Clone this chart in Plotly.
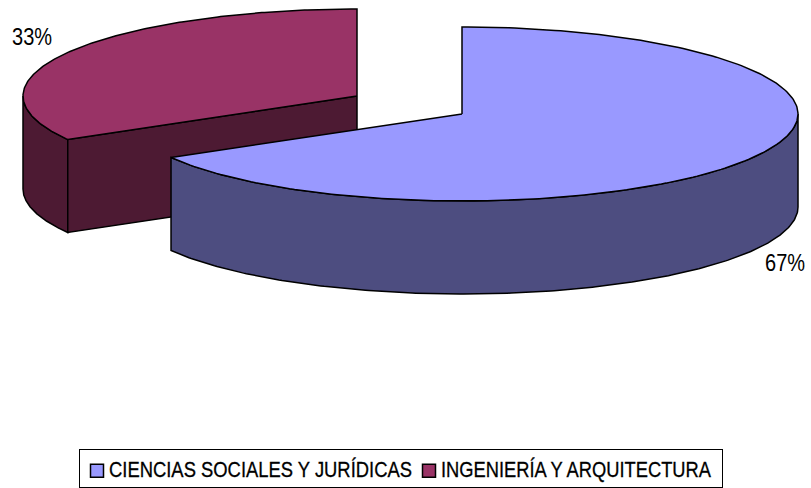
import numpy as np
import plotly.graph_objects as go

categories = ["CIENCIAS SOCIALES Y JURÍDICAS", "INGENIERÍA Y ARQUITECTURA"]
values = [2, 1]

TOP = ["#9999FF", "#993366"]
SIDE = ["#4D4D80", "#4D1A33"]
CENTERS = [(462, 114), (357, 96)]
RADII_X = [336, 334]
RY, DEPTH = 87, 93
FONT = "Liberation Sans, Arial, sans-serif"

shares = np.array(values, dtype=float) / sum(values)
edges = np.concatenate([[0], np.cumsum(shares)]) * 2 * np.pi


def rim(i, a0, a1, dy=0.0):
    t = np.linspace(a0, a1, 240)
    center = CENTERS[i]
    return center[0] + RADII_X[i] * np.sin(t), center[1] - RY * np.cos(t) + dy


def poly(x, y, color, name, group):
    return go.Scatter(x=list(x), y=list(y), mode="lines", fill="toself", fillcolor=color,
                      line=dict(color="black", width=1.5), hoverinfo="text", text=name,
                      legendgroup=group, showlegend=False)


fig = go.Figure()

# Second slice (drawn first: it lies behind the first one)
c = CENTERS[1]
a0, a1 = edges[1], edges[2]
visible_end = 1.5 * np.pi  # the wall is only visible on the front half
wx, wy = rim(1, a0, visible_end)
wxb, wyb = rim(1, a0, visible_end, DEPTH)
fig.add_trace(poly(np.r_[wx, wxb[::-1], wx[0]], np.r_[wy, wyb[::-1], wy[0]], SIDE[1], categories[1], "b"))
px, py = rim(1, a0, a0 + 1e-6)
fig.add_trace(poly([c[0], px[0], px[0], c[0], c[0]],
                   [c[1], py[0], py[0] + DEPTH, c[1] + DEPTH, c[1]], SIDE[1], categories[1], "b"))
tx, ty = rim(1, a0, a1)
fig.add_trace(poly(np.r_[c[0], tx, c[0]], np.r_[c[1], ty, c[1]], TOP[1], categories[1], "b"))

# First slice
c = CENTERS[0]
a0, a1 = edges[0], edges[1]
wx, wy = rim(0, 0.5 * np.pi, a1)
wxb, wyb = rim(0, 0.5 * np.pi, a1, DEPTH)
fig.add_trace(poly(np.r_[wx, wxb[::-1], wx[0]], np.r_[wy, wyb[::-1], wy[0]], SIDE[0], categories[0], "a"))
tx, ty = rim(0, a0, a1)
fig.add_trace(poly(np.r_[c[0], tx, c[0]], np.r_[c[1], ty, c[1]], TOP[0], categories[0], "a"))

# Legend entries
for name, color, group in zip(categories, TOP, ["a", "b"]):
    fig.add_trace(go.Scatter(x=[None], y=[None], mode="markers", name=name, legendgroup=group,
                             marker=dict(symbol="square", size=13, color=color,
                                         line=dict(color="black", width=1.5))))

label_pos = [(785, 263), (32, 37)]
for share, (x, y) in zip(shares, label_pos):
    fig.add_annotation(x=x, y=y, text=f"{share * 100:.0f}%", showarrow=False,
                       font=dict(family=FONT, size=23, color="black"))

fig.update_layout(
    width=811, height=488, margin=dict(l=0, r=0, t=0, b=0, autoexpand=False),
    paper_bgcolor="white", plot_bgcolor="white",
    xaxis=dict(range=[0, 811], visible=False),
    yaxis=dict(range=[488, 0], visible=False),
    showlegend=True,
    legend=dict(orientation="h", x=79 / 811, xanchor="left", y=1 - 449 / 488, yanchor="top",
                bgcolor="white", bordercolor="black", borderwidth=1,
                entrywidth=287, entrywidthmode="pixels",
                font=dict(family=FONT, size=22, color="black"), itemsizing="trace"),
)

# The reference uses a narrow face: squeeze the real text to the reference's widths.
post = """
var widths = [303, 270];
document.body.style.margin = '0';
document.querySelectorAll('.legendtext').forEach(function (t, i) {
  t.setAttribute('x', parseFloat(t.getAttribute('x')) - 10);
  t.setAttribute('y', parseFloat(t.getAttribute('y')) - 2);
  t.setAttribute('textLength', widths[i]);
  t.setAttribute('lengthAdjust', 'spacingAndGlyphs');
  t.style.stroke = 'black';
  t.style.strokeWidth = '0.3px';
});
document.querySelectorAll('.legendsymbols').forEach(function (g) {
  g.setAttribute('transform', 'translate(-2,0)');
});
document.querySelectorAll('.legend .bg').forEach(function (r) {
  r.setAttribute('width', 643);
  r.setAttribute('height', 38);
});
document.querySelectorAll('.annotation-text').forEach(function (t) {
  t.setAttribute('textLength', 40);
  t.setAttribute('lengthAdjust', 'spacingAndGlyphs');
});
"""

fig.write_html("out.html", post_script=post, config=dict(displayModeBar=False))
